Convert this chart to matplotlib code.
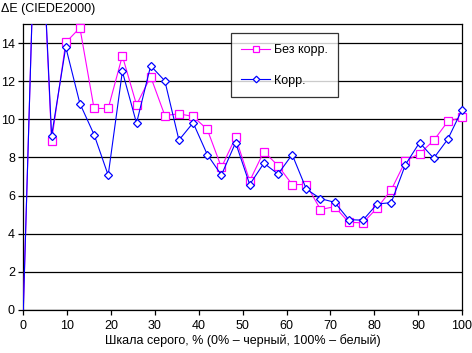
import matplotlib
matplotlib.use("Agg")
import matplotlib.pyplot as plt
from matplotlib.lines import Line2D

plt.rcParams['font.family'] = ['Liberation Sans', 'DejaVu Sans']

x_pct = [0, 3.23, 6.45, 9.68, 12.9, 16.13, 19.35, 22.58, 25.81, 29.03, 32.26, 35.48,
         38.71, 41.94, 45.16, 48.39, 51.61, 54.84, 58.06, 61.29, 64.52, 67.74,
         70.97, 74.19, 77.42, 80.65, 83.87, 87.1, 90.32, 93.55, 96.77, 100]
no_corr = [0, 25.0, 8.87, 14.03, 14.8, 10.57, 10.57, 13.33, 10.76, 12.24, 10.2, 10.29,
           10.15, 9.47, 7.48, 9.05, 6.77, 8.31, 7.57, 6.58, 6.58, 5.27,
           5.42, 4.6, 4.57, 5.35, 6.3, 7.81, 8.2, 8.89, 9.89, 10.1]
corr = [0, 25.0, 9.13, 13.79, 10.83, 9.2, 7.07, 12.51, 9.8, 12.81, 12.02, 8.91,
        9.82, 8.15, 7.08, 8.78, 6.58, 7.7, 7.13, 8.15, 6.34, 5.84,
        5.65, 4.74, 4.71, 5.56, 5.63, 7.62, 8.78, 7.96, 8.96, 10.5]
labels = ["Без корр.", "Корр."]
x_ticks = list(range(0, 101, 10))
y_ticks = list(range(0, 15, 2))

FS = 9
MAG, BLU = '#FF00FF', '#0000FF'
sq = dict(marker='s', ms=5.2, mfc='white', mec=MAG, mew=0.9)
di = dict(marker='D', ms=4.2, mfc='white', mec=BLU, mew=0.9)

fig = plt.figure(figsize=(4.72, 3.53), dpi=100)
ax = fig.add_axes([23.3/472, 1-310/353, (462-23.3)/472, (310-24)/353])

ax.plot(x_pct, no_corr, color=MAG, lw=0.8, zorder=3)
ax.plot(x_pct[2:], no_corr[2:], ls='none', clip_on=False, zorder=3, **sq)
ax.plot(x_pct, corr, color=BLU, lw=0.8, zorder=4)
ax.plot(x_pct[2:], corr[2:], ls='none', clip_on=False, zorder=4, **di)

ax.set_xlim(0, 100)
ax.set_ylim(0, 15)
ax.set_xticks(x_ticks)
ax.set_yticks(y_ticks)
ax.yaxis.grid(True, color='black', lw=0.9)
ax.set_axisbelow(True)
for s in ax.spines.values():
    s.set_color('black')
    s.set_linewidth(0.9)
ax.tick_params(axis='both', direction='out', length=3.5, width=0.9, labelsize=FS,
               colors='black')
ax.tick_params(axis='x', pad=4)
ax.tick_params(axis='y', pad=2.5)
ax.set_xlabel("Шкала серого, % (0% – черный, 100% – белый)", fontsize=FS, labelpad=1)
fig.text(1/472, 1-9/353, "ΔE (CIEDE2000)", fontsize=FS, ha='left', va='center')

handles = [Line2D([], [], color=MAG, lw=0.8, **sq), Line2D([], [], color=BLU, lw=0.8, **di)]
leg = ax.legend(handles, labels, loc='upper left',
                bbox_to_anchor=((230.7-23.3)/438.7, 1-(33.3-24)/286),
                frameon=True, fancybox=False, fontsize=FS, handlelength=2.3,
                borderpad=0.85, labelspacing=1.5, handletextpad=0.3, borderaxespad=0,
                markerscale=0.8)
leg.get_frame().set_edgecolor('black')
leg.get_frame().set_linewidth(0.9)
leg.set_zorder(10)

fig.savefig("out.png", dpi=100)
